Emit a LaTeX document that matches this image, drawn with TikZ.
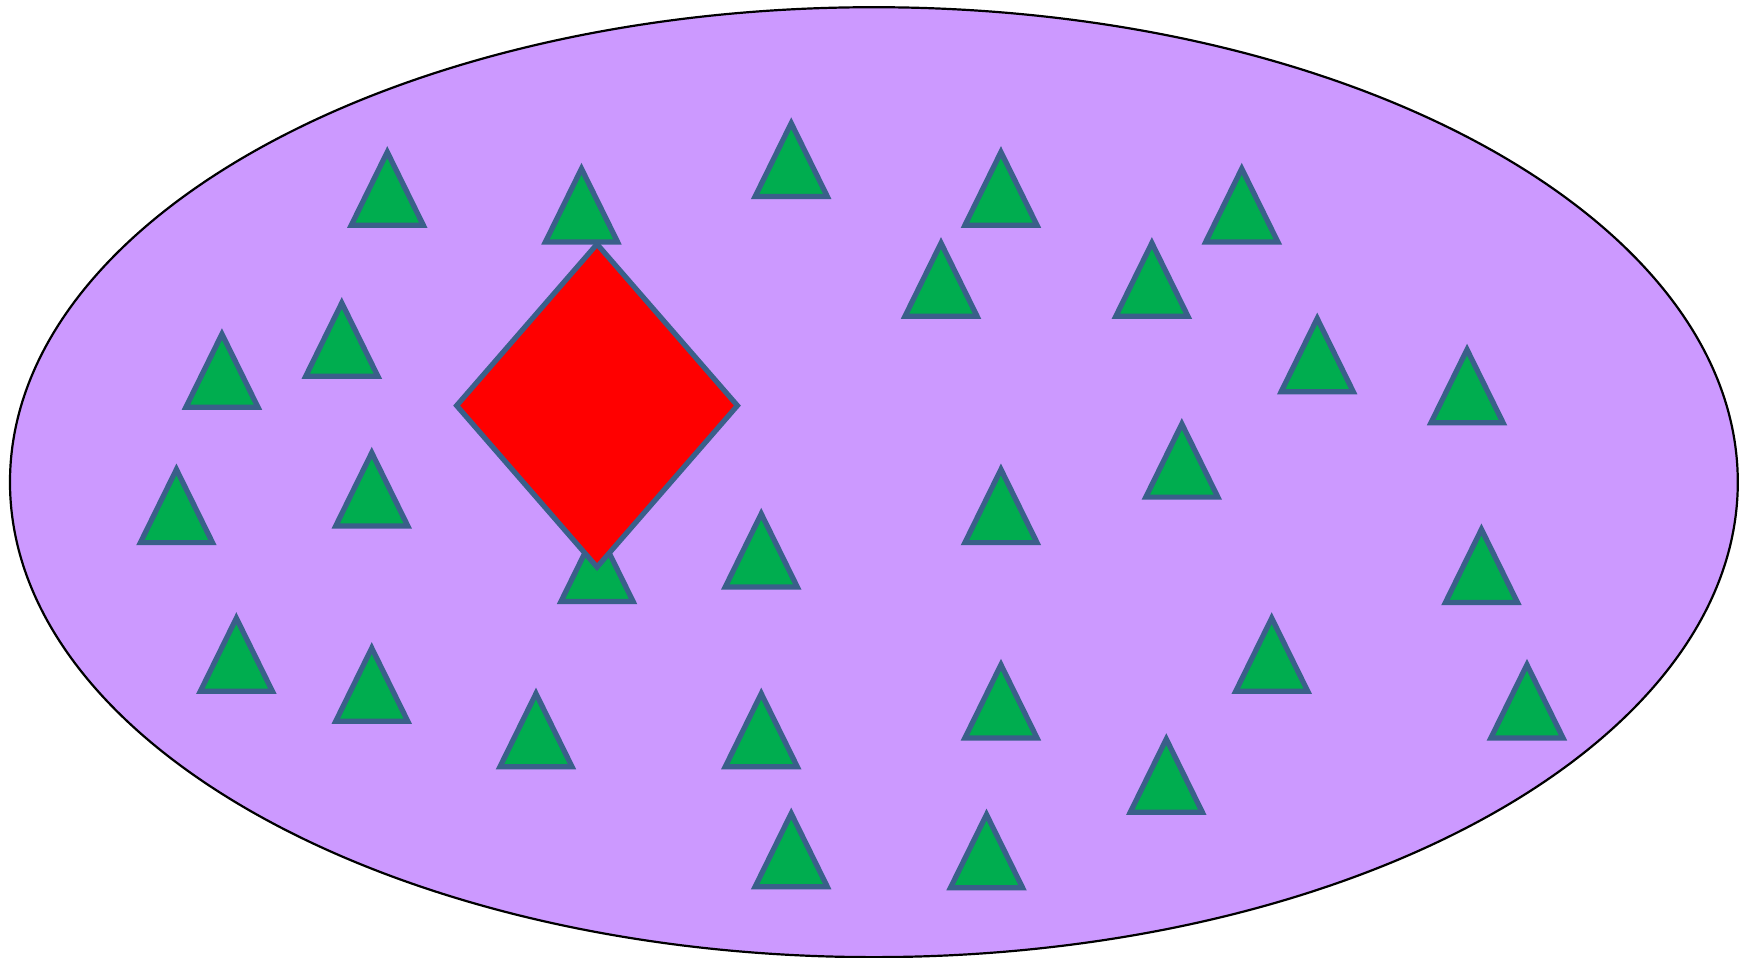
\documentclass[tikz,border=0pt]{standalone}
\usetikzlibrary{calc}
\definecolor{bgpurple}{HTML}{CC99FF}
\definecolor{trigreen}{HTML}{00AD4F}
\definecolor{edgeblue}{HTML}{3A5F8A}
\definecolor{dred}{HTML}{FF0000}
\tikzset{
  tristyle/.style={fill=trigreen, draw=edgeblue, line width=2.6pt, line join=miter},
  diastyle/.style={fill=dred, draw=edgeblue, line width=2.6pt, line join=miter},
  ellstyle/.style={fill=bgpurple, draw=black, line width=1.1pt}
}
\newcommand{\gtri}[2]{\draw[tristyle] ({#1-32.5},{#2+70}) -- ({#1},{#2+4}) -- ({#1+32.5},{#2+70}) -- cycle;}
\begin{document}
\begin{tikzpicture}[x=0.55485pt,y=-0.55485pt]
\useasboundingbox (0,0) rectangle (1568,863);
\draw[ellstyle] (787.5,434.5) ellipse [x radius=778.5, y radius=428];
\gtri{349}{133}
\gtri{524}{148}
\gtri{713}{107}
\gtri{902}{133}
\gtri{1119}{148}
\gtri{848}{215}
\gtri{1038}{215}
\gtri{1187}{283}
\gtri{1322}{311}
\gtri{200}{297}
\gtri{308}{269}
\gtri{159}{419}
\gtri{335}{404}
\gtri{538}{472}
\gtri{686}{459}
\gtri{902}{419}
\gtri{1065}{378}
\gtri{1335}{473}
\gtri{213}{553}
\gtri{335}{580}
\gtri{483}{621}
\gtri{686}{621}
\gtri{902}{595}
\gtri{1146}{553}
\gtri{1376}{595}
\gtri{1051}{662}
\gtri{713}{729}
\gtri{889}{730}
\draw[diastyle] (538,220) -- (664.5,365.5) -- (538,511) -- (411.5,365.5) -- cycle;
\end{tikzpicture}
\end{document}
